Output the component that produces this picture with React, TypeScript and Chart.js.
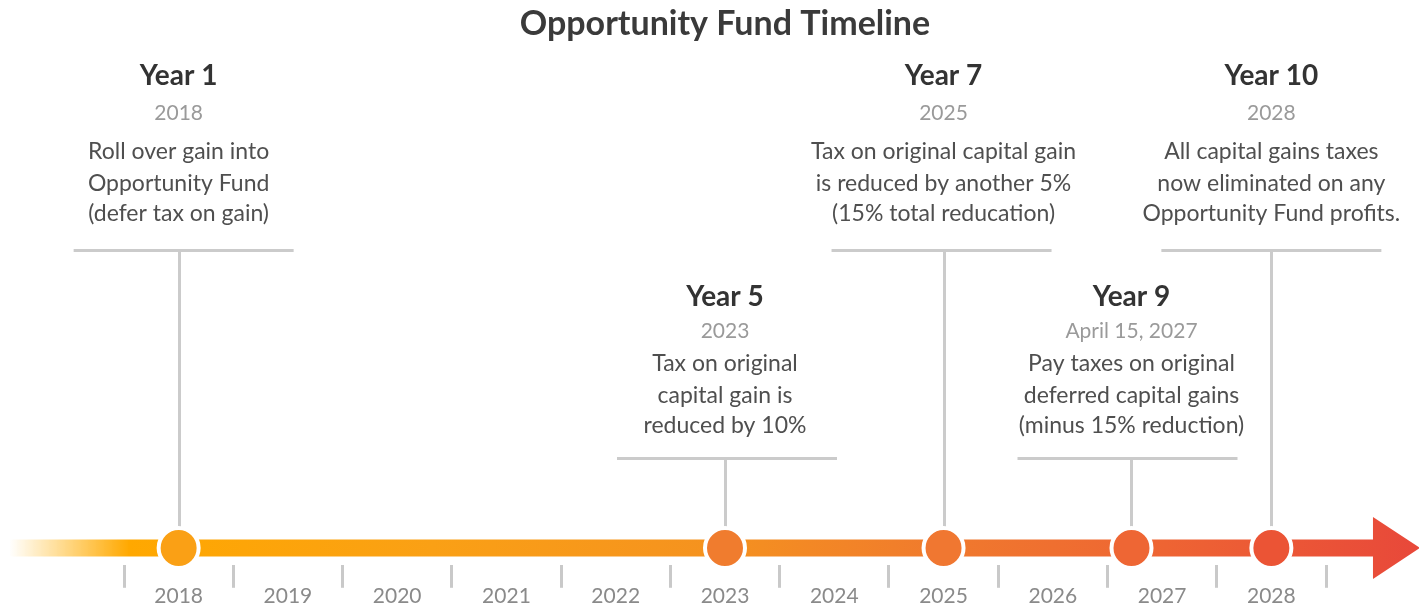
import React, { useEffect, useRef } from 'react';
import { Chart, registerables } from 'chart.js';

Chart.register(...registerables);

// ---------- data ----------
const chartTitle = 'Opportunity Fund Timeline';
const axisYears = [2018, 2019, 2020, 2021, 2022, 2023, 2024, 2025, 2026, 2027, 2028];
const eventX = [2018, 2023, 2025, 2026.72, 2028];
const eventTitles = ['Year 1', 'Year 5', 'Year 7', 'Year 9', 'Year 10'];
const eventDates = ['2018', '2023', '2025', 'April 15, 2027', '2028'];
const eventNotes = [
  ['Roll over gain into', 'Opportunity Fund', '(defer tax on gain)'],
  ['Tax on original', 'capital gain is', 'reduced by 10%'],
  ['Tax on original capital gain', 'is reduced by another 5%', '(15% total reducation)'],
  ['Pay taxes on original', 'deferred capital gains', '(minus 15% reduction)'],
  ['All capital gains taxes', 'now eliminated on any', 'Opportunity Fund profits.'],
];
const eventTier = ['high', 'low', 'high', 'low', 'high'];
const timelineStart = 2016.45;
const timelineEnd = 2029.36;

// ---------- styles ----------
const FONT = 'Lato, "Source Sans Pro", "Noto Sans", sans-serif';
const dotColors = ['#FAA015', '#F07C2E', '#F07731', '#EE6634', '#EB5435'];
const calloutColor = '#cbcbcb';
const calloutShift = [5, 2, -2, -4, 0];
const tierLayout: Record<string, { line: number; text: number[] }> = {
  high: { line: 298, text: [174, 137, 98, 66, 36] },
  low: { line: 90, text: [161, 127, 94, 62, 32] },
};

const timelinePlugin = {
  id: 'timeline',
  beforeDatasetsDraw(chart: any) {
    const { ctx } = chart;
    const xs = chart.scales.x;
    const ys = chart.scales.y;
    const cy = ys.getPixelForValue(0);
    const x0 = xs.getPixelForValue(timelineStart);
    const x1 = xs.getPixelForValue(timelineEnd);
    const headLen = 47;
    const headHalf = 31;
    const barHalf = 8.5;
    ctx.save();
    const g = ctx.createLinearGradient(x0, 0, x1, 0);
    g.addColorStop(0, 'rgba(255,176,0,0)');
    g.addColorStop(0.085, 'rgba(255,168,0,1)');
    g.addColorStop(0.3, '#FAA015');
    g.addColorStop(0.5, '#F5921F');
    g.addColorStop(0.66, '#F07A2D');
    g.addColorStop(0.82, '#EE6433');
    g.addColorStop(1, '#E8483A');
    ctx.fillStyle = g;
    ctx.beginPath();
    ctx.moveTo(x0, cy - barHalf);
    ctx.lineTo(x1 - headLen, cy - barHalf);
    ctx.lineTo(x1 - headLen, cy - headHalf);
    ctx.lineTo(x1, cy);
    ctx.lineTo(x1 - headLen, cy + headHalf);
    ctx.lineTo(x1 - headLen, cy + barHalf);
    ctx.lineTo(x0, cy + barHalf);
    ctx.closePath();
    ctx.fill();

    // callouts
    ctx.strokeStyle = calloutColor;
    ctx.lineWidth = 3;
    eventX.forEach((v, i) => {
      const px = xs.getPixelForValue(v);
      const lay = tierLayout[eventTier[i]];
      const ly = cy - lay.line;
      const hc = px + calloutShift[i];
      ctx.beginPath();
      ctx.moveTo(Math.round(px) + 0.5, ly);
      ctx.lineTo(Math.round(px) + 0.5, cy);
      ctx.stroke();
      ctx.beginPath();
      ctx.moveTo(hc - 110, ly + 0.5);
      ctx.lineTo(hc + 110, ly + 0.5);
      ctx.stroke();

      ctx.textAlign = 'center';
      ctx.textBaseline = 'middle';
      ctx.fillStyle = '#333333';
      ctx.font = `bold 28px ${FONT}`;
      ctx.fillText(eventTitles[i], px, ly - lay.text[0]);
      ctx.fillStyle = '#9a9a9a';
      ctx.font = `21px ${FONT}`;
      ctx.fillText(eventDates[i], px, ly - lay.text[1]);
      ctx.fillStyle = '#4f4f4f';
      ctx.font = `23px ${FONT}`;
      eventNotes[i].forEach((t, k) => {
        ctx.fillText(t, px, ly - lay.text[2 + k]);
      });
    });
    ctx.restore();
  },
};

export default function App() {
  const ref = useRef<HTMLCanvasElement>(null);
  useEffect(() => {
    document.body.style.margin = '0';
    const chart = new Chart(ref.current!, {
      type: 'scatter',
      data: {
        datasets: [
          {
            data: eventX.map((x) => ({ x, y: 0 })),
            pointRadius: 20,
            pointHoverRadius: 20,
            pointBorderWidth: 4,
            pointBorderColor: '#ffffff',
            pointBackgroundColor: dotColors,
            clip: false as any,
          },
        ],
      },
      options: {
        animation: false,
        responsive: false,
        events: [],
        layout: { padding: { left: 124, right: 93, top: 0, bottom: 2 } },
        plugins: {
          legend: { display: false },
          tooltip: { enabled: false },
          title: {
            display: true,
            text: chartTitle,
            color: '#3a3a3a',
            font: { family: FONT, size: 34, weight: 'bold' },
            padding: { top: 4, bottom: 486.2 },
          },
        },
        scales: {
          x: {
            type: 'linear',
            min: axisYears[0] - 0.5,
            max: axisYears[axisYears.length - 1] + 0.5,
            afterBuildTicks: (scale: any) => {
              scale.ticks = axisYears.map((value) => ({ value }));
            },
            border: { display: false },
            grid: {
              display: true,
              drawOnChartArea: false,
              drawTicks: true,
              offset: true,
              tickLength: 23,
              color: '#c9c9c9',
              lineWidth: 3,
            },
            ticks: {
              autoSkip: false,
              maxRotation: 0,
              padding: -4,
              color: '#8a8a8a',
              font: { family: FONT, size: 21 },
              callback: (v: any) => String(v),
            },
          },
          y: { display: false, min: -1, max: 1 },
        },
      },
      plugins: [timelinePlugin],
    });
    return () => chart.destroy();
  }, []);
  return (
    <div style={{ position: 'fixed', left: 0, top: 0, width: 1419, height: 607, background: '#fff' }}>
      <canvas ref={ref} width={1419} height={607} style={{ display: 'block' }} />
    </div>
  );
}
